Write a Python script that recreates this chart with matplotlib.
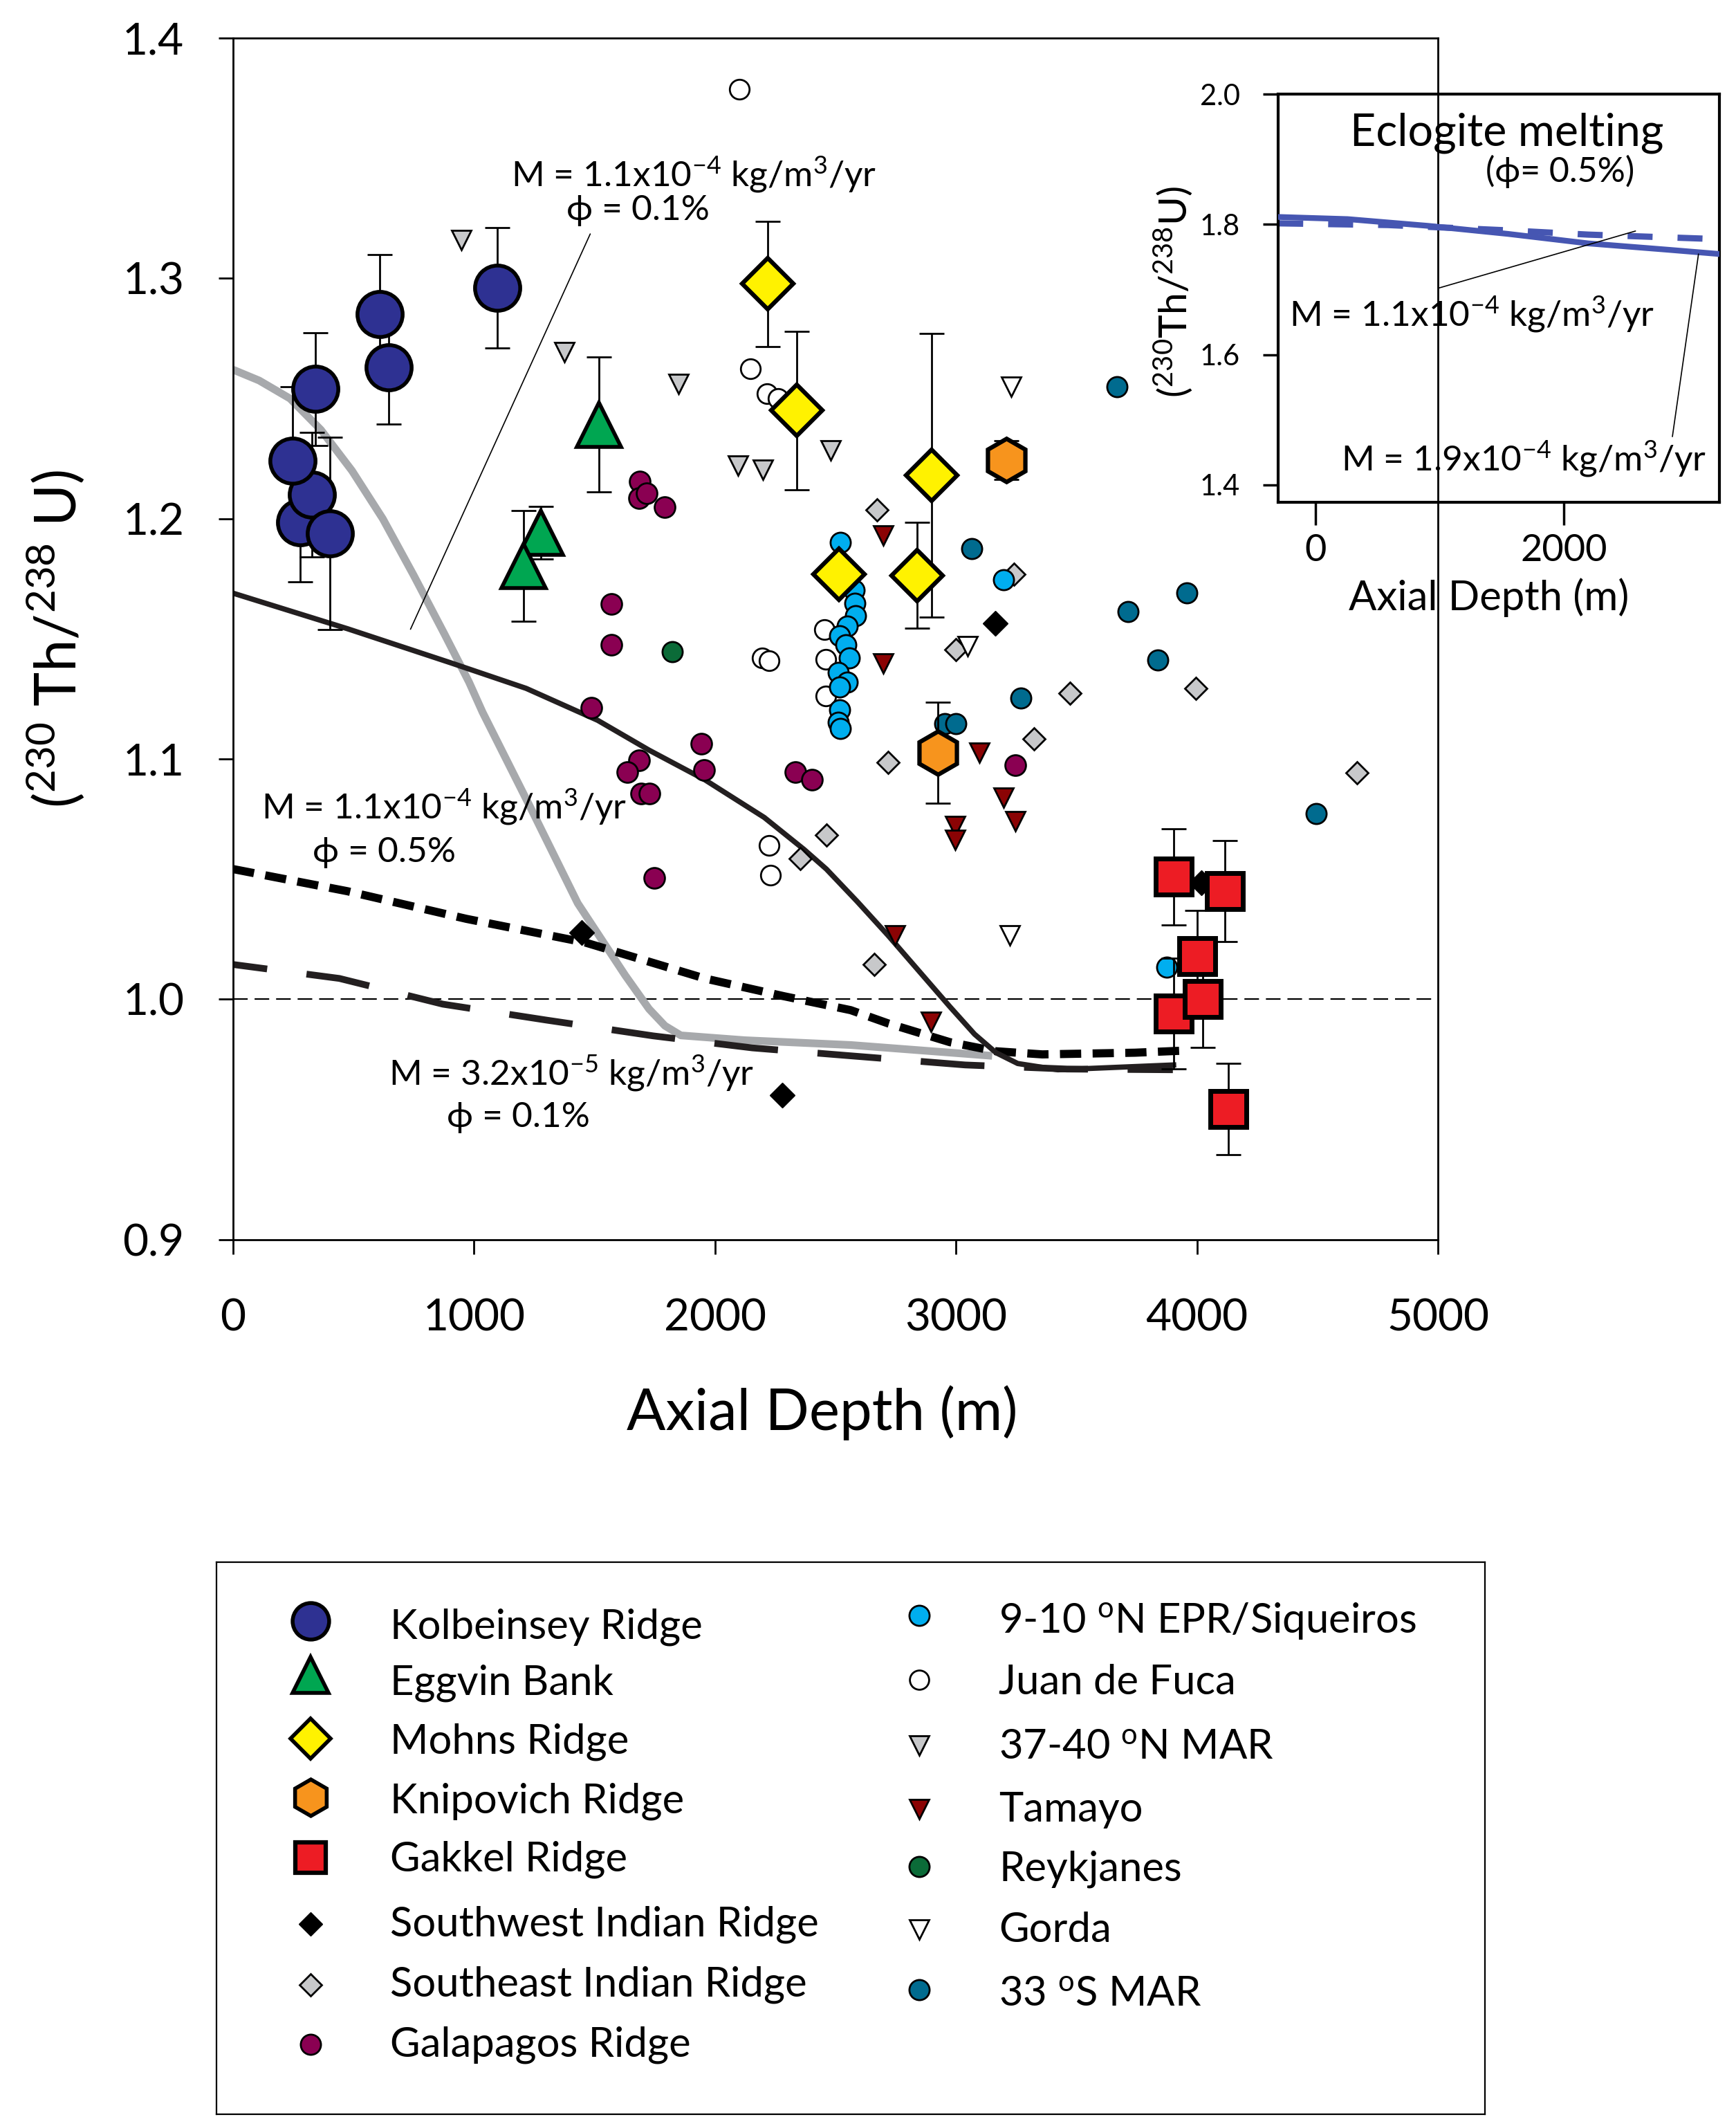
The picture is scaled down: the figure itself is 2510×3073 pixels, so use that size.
import matplotlib
matplotlib.use("Agg")
import matplotlib.pyplot as plt
from matplotlib.ticker import FormatStrFormatter, FixedLocator

plt.rcParams['font.family'] = ['Lato', 'DejaVu Sans']
plt.rcParams['mathtext.fontset'] = 'custom'
plt.rcParams['mathtext.rm'] = 'Lato'
plt.rcParams['mathtext.it'] = 'Lato:italic'
plt.rcParams['mathtext.bf'] = 'Lato:bold'
plt.rcParams['mathtext.default'] = 'regular'

# ---------------- data (axial depth m, (230Th/238U)) ----------------
kolb_x = [277, 328, 247, 403, 342, 646, 608, 1097]
kolb_y = [1.1986, 1.210, 1.224, 1.194, 1.254, 1.263, 1.285, 1.296]
kolb_err = [0.025, 0.026, 0.031, 0.040, 0.0235, 0.0235, 0.025, 0.025]

egg_x = [1278, 1204, 1517]
egg_y = [1.1942, 1.1804, 1.2392]
egg_err = [0.011, 0.023, 0.028]

mohns_x = [2218, 2339, 2900, 2515, 2839]
mohns_y = [1.2977, 1.245, 1.218, 1.1768, 1.1764]
mohns_err = [0.026, 0.033, 0.059, 0.0, 0.022]

knip_x = [3210, 2924]
knip_y = [1.2244, 1.1025]
knip_err = [0.008, 0.021]

gak_x = [3903, 4115, 4000, 3903, 4023, 4130]
gak_y = [1.051, 1.045, 1.018, 0.994, 1.000, 0.9544]
gak_err = [0.020, 0.021, 0.019, 0.023, 0.020, 0.019]

swir_x = [3162, 1446, 2279, 4018]
swir_y = [1.1565, 1.0277, 0.960, 1.0485]

seir_x = [2672, 3239, 2998, 3473, 3325, 2717, 2462, 2353, 2660, 3996, 4663]
seir_y = [1.2037, 1.1768, 1.1454, 1.1273, 1.1083, 1.0985, 1.0684, 1.0587, 1.0144, 1.1294, 1.0944]

gal_x = [1687, 1684, 1716, 1790, 1569, 1569, 1487, 1944, 1954, 1686, 1636, 1694, 1727, 1748, 2333, 2402, 3245]
gal_y = [1.2154, 1.2087, 1.2106, 1.2048, 1.1646, 1.1476, 1.1214, 1.1063, 1.0955, 1.0996, 1.0947, 1.0856, 1.0856, 1.0504, 1.0947, 1.0914, 1.0974]

epr_x = [2521, 2576, 2580, 2582, 2550, 2518, 2543, 2556, 2511, 2550, 2518, 2518, 2511, 2521, 3197, 3876]
epr_y = [1.190, 1.1704, 1.1649, 1.1597, 1.1552, 1.1514, 1.1476, 1.142, 1.136, 1.132, 1.130, 1.1205, 1.1154, 1.1126, 1.1745, 1.0134]

jdf_x = [2100, 2146, 2217, 2262, 2454, 2460, 2460, 2196, 2224, 2224, 2229]
jdf_y = [1.3786, 1.2625, 1.252, 1.250, 1.154, 1.1415, 1.1263, 1.142, 1.141, 1.0641, 1.0517]

mar37_x = [947, 1376, 1847, 2095, 2198, 2480]
mar37_y = [1.316, 1.2693, 1.2562, 1.222, 1.2205, 1.2285]

tam_x = [2698, 2698, 3098, 3198, 3247, 2997, 2997, 2746, 2897]
tam_y = [1.193, 1.1398, 1.1025, 1.0838, 1.0742, 1.0721, 1.0664, 1.0266, 0.9906]

reyk_x = [1822]
reyk_y = [1.1447]

gorda_x = [3229, 3049, 3222]
gorda_y = [1.2548, 1.147, 1.0266]

mar33_x = [3668, 3065, 3714, 3958, 3837, 3268, 2953, 2998, 4496]
mar33_y = [1.2548, 1.1876, 1.1614, 1.1692, 1.1413, 1.1254, 1.1147, 1.1147, 1.0772]

# model curves
gray_x = [0, 108, 236, 364, 493, 621, 749, 877, 979, 1035, 1233, 1430, 1627, 1726, 1792, 1858, 2122, 2563, 3150]
gray_y = [1.262, 1.2575, 1.250, 1.237, 1.220, 1.200, 1.1765, 1.152, 1.132, 1.1195, 1.080, 1.040, 1.010, 0.996, 0.989, 0.985, 0.983, 0.981, 0.9765]

solid_x = [0, 475, 904, 1216, 1513, 1726, 1957, 2204, 2369, 2462, 2590, 2718, 2846, 2974, 3077, 3166, 3256, 3423, 3903]
solid_y = [1.169, 1.1542, 1.140, 1.1294, 1.1161, 1.1037, 1.0914, 1.0757, 1.0624, 1.0542, 1.0407, 1.0266, 1.0118, 0.997, 0.9855, 0.9778, 0.9733, 0.9707, 0.9727]

dot_x = [0, 474, 968, 1463, 1957, 2286, 2563, 2718, 2974, 3166, 3358, 3743, 3954]
dot_y = [1.0542, 1.045, 1.0335, 1.0236, 1.0087, 1.0013, 0.9955, 0.990, 0.9822, 0.9784, 0.9771, 0.9778, 0.9787]

ldash_x = [0, 441, 870, 1298, 1743, 2155, 2563, 3038, 3461, 3900]
ldash_y = [1.0145, 1.0087, 0.998, 0.9914, 0.9848, 0.9798, 0.9765, 0.9727, 0.971, 0.9707]

# inset (eclogite melting)
ecl1_x = [-300, 258, 903, 1548, 2194, 2839, 3250]
ecl1_y = [1.8114, 1.8081, 1.7978, 1.7854, 1.7708, 1.761, 1.7545]
ecl2_x = [-300, 581, 1548, 2194, 2839, 3250]
ecl2_y = [1.8016, 1.799, 1.7908, 1.7843, 1.780, 1.7773]

main_xticks = [0, 1000, 2000, 3000, 4000, 5000]
main_yticks = [0.9, 1.0, 1.1, 1.2, 1.3, 1.4]
inset_xticks = [0, 2000]
inset_yticks = [1.4, 1.6, 1.8, 2.0]

# colours
C_KOLB = '#2e3192'
C_EGG = '#00a651'
C_MOHNS = '#fff200'
C_KNIP = '#f7941d'
C_GAK = '#ed1c24'
C_SEIR = '#c7c8ca'
C_GAL = '#8a0052'
C_EPR = '#00aeef'
C_TAM = '#8b0304'
C_REYK = '#0b6b38'
C_MAR33 = '#006b8f'
C_GRAYCURVE = '#a7a9ac'
C_DARK = '#231f20'
C_ECL = '#4656b2'

fig = plt.figure(figsize=(25.10, 30.73), dpi=100)

# ---------------- main axes ----------------
ax = fig.add_axes([0.1343, 0.4169, 0.6940, 0.5652])
ax.set_xlim(0, 5000)
ax.set_ylim(0.9, 1.4)

# reference line
ax.axhline(1.0, color='black', lw=1.6, ls=(0, (9.5, 4.5)), zorder=1)

# model curves
ax.plot(gray_x, gray_y, color=C_GRAYCURVE, lw=8, solid_capstyle='butt', zorder=2)
ax.plot(ldash_x, ldash_y, color=C_DARK, lw=7, ls=(4.4, (9.5, 5.9)), zorder=2)
ax.plot(dot_x, dot_y, color='black', lw=8.5, ls=(0, (2.6, 1.4)), zorder=2)
ax.plot(solid_x, solid_y, color=C_DARK, lw=5.5, zorder=2)

def small(x, y, marker, ms, fc, ec='black', mew=2.0):
    ax.plot(x, y, ls='none', marker=marker, ms=ms, mfc=fc, mec=ec, mew=mew, zorder=3)

small(seir_x, seir_y, 'D', 16.5, C_SEIR)
small(gal_x, gal_y, 'o', 21.5, C_GAL)
small(jdf_x, jdf_y, 'o', 20.5, 'white')
small(epr_x, epr_y, 'o', 21, C_EPR)
small(mar37_x, mar37_y, 'v', 20, C_SEIR)
small(tam_x, tam_y, 'v', 20, C_TAM)
small(reyk_x, reyk_y, 'o', 21, C_REYK)
small(gorda_x, gorda_y, 'v', 20, 'white')
small(mar33_x, mar33_y, 'o', 21, C_MAR33)
small(swir_x, swir_y, 'D', 18, 'black', mew=1)

def big(x, y, err, marker, ms, fc, mew=4.2):
    ax.errorbar(x, y, yerr=err, fmt='none', ecolor='black', elinewidth=2.0,
                capsize=13, capthick=2.0, zorder=4)
    ax.plot(x, y, ls='none', marker=marker, ms=ms, mfc=fc, mec='black', mew=mew, zorder=5)

big(kolb_x, kolb_y, kolb_err, 'o', 47, C_KOLB, mew=4)
big(egg_x, egg_y, egg_err, '^', 46, C_EGG, mew=4)
big(mohns_x, mohns_y, mohns_err, 'D', 38, C_MOHNS, mew=4.5)
big(knip_x, knip_y, knip_err, 'h', 45, C_KNIP, mew=4.5)
big(gak_x, gak_y, gak_err, 's', 37, C_GAK, mew=5)

# axes styling
for s in ax.spines.values():
    s.set_linewidth(2)
ax.xaxis.set_major_locator(FixedLocator(main_xticks))
ax.yaxis.set_major_locator(FixedLocator(main_yticks))
ax.yaxis.set_major_formatter(FormatStrFormatter('%.1f'))
ax.tick_params(axis='both', direction='out', length=15, width=2, labelsize=46)
ax.tick_params(axis='x', pad=46)
ax.tick_params(axis='y', pad=36)
ax.set_xlabel('Axial Depth (m)', fontsize=60)
ax.xaxis.set_label_coords(0.489, -0.121)
ax.set_ylabel(r'($^{230}$ Th/$^{238}$ U)', fontsize=60)
ax.yaxis.set_label_coords(-0.122, 0.5)

# curve labels
tfs = 37
ax.text(1913, 1.343, r'M = 1.1x10$^{-4}$ kg/m$^{3}$/yr', fontsize=tfs, ha='center', va='center')
ax.text(1679, 1.3283, 'ϕ = 0.1%', fontsize=tfs, ha='center', va='center')
ax.annotate('', xy=(736, 1.154), xytext=(1482, 1.3185),
            arrowprops=dict(arrowstyle='-', color='black', lw=1.2, shrinkA=0, shrinkB=0))
ax.text(876, 1.0798, r'M = 1.1x10$^{-4}$ kg/m$^{3}$/yr', fontsize=tfs, ha='center', va='center')
ax.text(626, 1.0613, 'ϕ = 0.5%', fontsize=tfs, ha='center', va='center')
ax.text(1403, 0.9691, r'M = 3.2x10$^{-5}$ kg/m$^{3}$/yr', fontsize=tfs, ha='center', va='center')
ax.text(1185, 0.951, 'ϕ = 0.1%', fontsize=tfs, ha='center', va='center')

# ---------------- inset ----------------
ins = fig.add_axes([0.7363, 0.7637, 0.2542, 0.1920])
ins.patch.set_alpha(0)
ins.set_xlim(-300, 3250)
ins.set_ylim(1.373, 2.0)
ins.plot(ecl1_x, ecl1_y, color=C_ECL, lw=6, zorder=3)
ins.plot(ecl2_x, ecl2_y, color=C_ECL, lw=6.5, ls=(0, (4.0, 4.0)), zorder=2)
for s in ins.spines.values():
    s.set_linewidth(3)
ins.xaxis.set_major_locator(FixedLocator(inset_xticks))
ins.yaxis.set_major_locator(FixedLocator(inset_yticks))
ins.yaxis.set_major_formatter(FormatStrFormatter('%.1f'))
ins.tick_params(axis='x', direction='out', length=24, width=2.5, labelsize=39, pad=8)
ins.tick_params(axis='y', direction='out', length=16, width=2.5, labelsize=30, pad=24)
ins.set_xlabel('Axial Depth (m)', fontsize=43)
ins.xaxis.set_label_coords(0.477, -0.185)
ins.set_ylabel(r'($^{230}$Th/$^{238}$U)', fontsize=41)
ins.yaxis.set_label_coords(-0.19, 0.515)
ins.text(1540, 1.94, 'Eclogite melting', fontsize=46.5, ha='center', va='center')
ins.text(1968, 1.881, '(ϕ= 0.5%)', fontsize=36, ha='center', va='center')
ins.text(1258, 1.661, r'M = 1.1x10$^{-4}$ kg/m$^{3}$/yr', fontsize=tfs, ha='center', va='center')
ins.text(1677, 1.439, r'M = 1.9x10$^{-4}$ kg/m$^{3}$/yr', fontsize=tfs, ha='center', va='center')
ins.annotate('', xy=(2574, 1.7898), xytext=(993, 1.7023),
             arrowprops=dict(arrowstyle='-', color='black', lw=1.2, shrinkA=0, shrinkB=0))
ins.annotate('', xy=(3081, 1.7545), xytext=(2871, 1.474),
             arrowprops=dict(arrowstyle='-', color='black', lw=1.2, shrinkA=0, shrinkB=0))

# ---------------- legend box ----------------
lax = fig.add_axes([0.1247, 0.0055, 0.7307, 0.2597])
lax.set_xlim(0, 1)
lax.set_ylim(0, 1)
lax.set_xticks([])
lax.set_yticks([])
for s in lax.spines.values():
    s.set_linewidth(1.6)

legend_left = [
    ('Kolbeinsey Ridge', 'o', 38, C_KOLB, 4.0, 0.8935, 0.8615),
    ('Eggvin Bank', '^', 38, C_EGG, 4.0, 0.7964, 0.7607),
    ('Mohns Ridge', 'D', 30, C_MOHNS, 4.0, 0.6805, 0.6540),
    ('Knipovich Ridge', 'h', 38, C_KNIP, 4.0, 0.5739, 0.5464),
    ('Gakkel Ridge', 's', 31, C_GAK, 4.5, 0.4649, 0.4401),
    ('Southwest Indian Ridge', 'D', 17, 'black', 1.0, 0.3446, 0.3228),
    ('Southeast Indian Ridge', 'D', 16, C_SEIR, 2.0, 0.2343, 0.2143),
    ('Galapagos Ridge', 'o', 21, C_GAL, 2.0, 0.1266, 0.1046),
]
legend_right = [
    (r'9-10 $^{o}$N EPR/Siqueiros', 'o', 21, C_EPR, 2.0, 0.9035, 0.8727),
    ('Juan de Fuca', 'o', 20, 'white', 2.0, 0.7876, 0.7607),
    (r'37-40 $^{o}$N MAR', 'v', 20, C_SEIR, 2.0, 0.6679, 0.6426),
    ('Tamayo', 'v', 20, C_TAM, 2.0, 0.5526, 0.5298),
    ('Reykjanes', 'o', 21, C_REYK, 2.0, 0.4486, 0.4224),
    ('Gorda', 'v', 20, 'white', 2.0, 0.3346, 0.3117),
    (r'33 $^{o}$S MAR', 'o', 21, C_MAR33, 2.0, 0.2256, 0.1943),
]
for entries, mx, tx in [(legend_left, 0.0742, 0.1369), (legend_right, 0.554, 0.6167)]:
    for label, mk, ms, fc, mew, my, ty in entries:
        lax.plot([mx], [my], ls='none', marker=mk, ms=ms, mfc=fc, mec='black', mew=mew)
        lax.text(tx, ty, label, fontsize=43, ha='left', va='baseline')

fig.savefig('out.png', dpi=100)
